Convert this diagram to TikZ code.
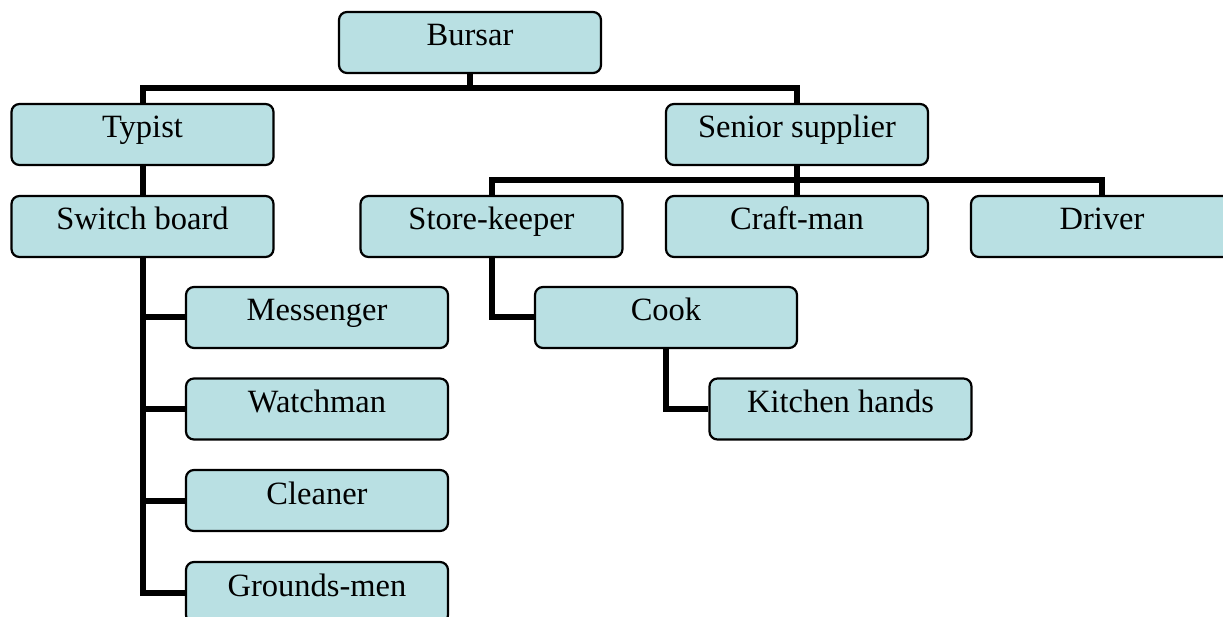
\documentclass[tikz,border=0pt]{standalone}
\usepackage{fontspec}
\setmainfont{Liberation Serif}
\definecolor{boxfill}{RGB}{185,224,227}
\tikzset{
  post/.style={draw=black, line width=2.2pt, fill=boxfill, rounded corners=8pt,
    minimum width=262pt, inner xsep=0pt, inner ysep=0pt,
    text height=34pt, text depth=27pt, font=\fontsize{32.5}{32.5}\selectfont},
  link/.style={line width=6pt}
}
\begin{document}
\begin{tikzpicture}[x=1pt, y=-1pt]
      \useasboundingbox (0,0) rectangle (1223,617);

      \coordinate (bus1) at (470,88);
      \coordinate (bus2) at (797,180);

      \node[post] (Bur) at (470,42.5) {Bursar};
      \node[post] (Typ) at (142.5,134.5) {Typist};
      \node[post] (Sen) at (797,134.5) {Senior supplier};

      \node[post] (Swi) at (142.5,226.5) {Switch board};
      \node[post] (Sto) at (491.5,226.5) {Store-keeper};
      \node[post] (Cra) at (797,226.5) {Craft-man};
      \node[post] (Dri) at (1102,226.5) {Driver};

      \node[post] (Mes) at (317,317.5) {Messenger};
      \node[post] (Coo) at (666,317.5) {Cook};
      \node[post] (Wat) at (317,409) {Watchman};
      \node[post] (Kit) at (840.5,409) {Kitchen hands};
      \node[post] (Cle) at (317,500.5) {Cleaner};
      \node[post] (Gro) at (317,592.5) {Grounds-men};

      \draw[link] (Bur.south) -- (bus1);
      \draw[link] (Typ.north) |- (bus1) -| (Sen.north);
      \draw[link] (Typ.south) -- (Swi.north);
      \draw[link] (Sen.south) -- (Cra.north);
      \draw[link] (Sto.north) |- (bus2) -| (Dri.north);
      \foreach \n in {Mes,Wat,Cle,Gro}
        \draw[link] (Swi.south) |- (\n.west);
      \draw[link] (Sto.south) |- (Coo.west);
      \draw[link] (Coo.south) |- (Kit.west);
    \end{tikzpicture}
\end{document}
